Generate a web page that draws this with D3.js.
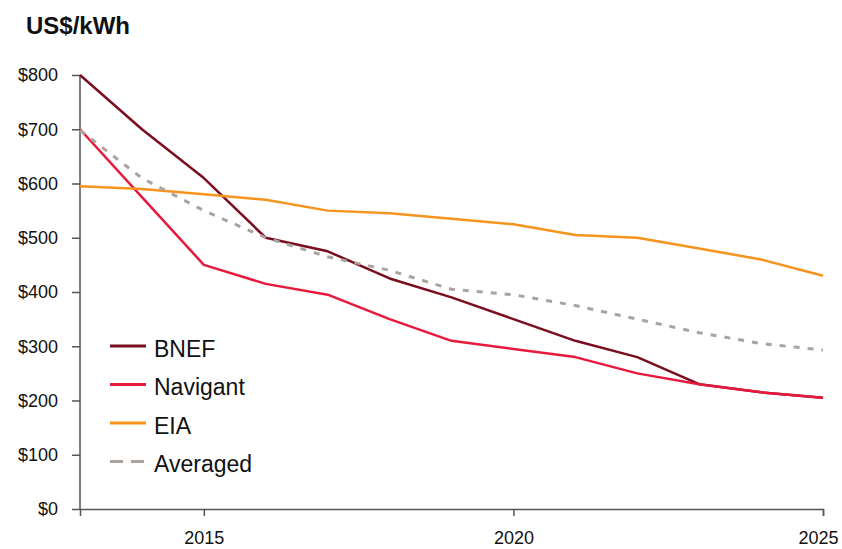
<!DOCTYPE html>
<html>
<head>
<meta charset="utf-8">
<script src="https://cdn.jsdelivr.net/npm/d3@7"></script>
<style>
  body { margin: 0; background: #fff; }
  text { font-family: "Liberation Sans", Arial, Helvetica, sans-serif; fill: #111; }
</style>
</head>
<body>
<div id="chart"></div>
<script>
var years = [2013, 2014, 2015, 2016, 2017, 2018, 2019, 2020, 2021, 2022, 2023, 2024, 2025];
var bnef     = [800, 700, 610, 500, 475, 425, 390, 350, 310, 280, 230, 215, 205];
var navigant = [700, 575, 450, 415, 395, 350, 310, 295, 280, 250, 230, 215, 205];
var eia      = [595, 590, 580, 570, 550, 545, 535, 525, 505, 500, 480, 460, 430];
var averaged = [698, 610, 550, 500, 465, 440, 405, 395, 375, 350, 325, 305, 293];
var xTicks = [2015, 2020, 2025];
var yTicks = [0, 100, 200, 300, 400, 500, 600, 700, 800];

var series = [
  {name: "BNEF", values: bnef, color: "#7a0d1f", dash: null},
  {name: "Navigant", values: navigant, color: "#e8193c", dash: null},
  {name: "EIA", values: eia, color: "#f7941e", dash: null},
  {name: "Averaged", values: averaged, color: "#aaa39e", dash: "6,8"}
];

var svgWidth = 842, svgHeight = 549;
var margin = {top: 75, right: 19, bottom: 40, left: 80};
var width = svgWidth - margin.left - margin.right;
var height = svgHeight - margin.top - margin.bottom;

var x = d3.scaleLinear().domain([2013, 2025]).range([0, width]),
    y = d3.scaleLinear().domain([0, 800]).range([height, 0]);

var svg = d3.select("#chart").append("svg")
    .attr("width", svgWidth)
    .attr("height", svgHeight);

svg.append("text")
    .attr("x", 26)
    .attr("y", 34)
    .style("font-size", "24px")
    .style("font-weight", "bold")
    .text("US$/kWh");

var g = svg.append("g")
    .attr("transform", "translate(" + margin.left + "," + margin.top + ")");

// axes
var yAxis = d3.axisLeft(y).tickValues(yTicks).tickSize(8).tickPadding(14)
    .tickFormat(function(d) { return "$" + d; });
var xAxis = d3.axisBottom(x).tickValues(xTicks).tickSize(7).tickPadding(15)
    .tickFormat(d3.format("d"));

var gy = g.append("g").attr("class", "yAxis").call(yAxis);
var gx = g.append("g").attr("class", "xAxis")
    .attr("transform", "translate(0," + height + ")")
    .call(xAxis);

[gx, gy].forEach(function(a) {
  a.select(".domain").attr("stroke", "#555").attr("stroke-width", 1.5);
  a.selectAll(".tick line").attr("stroke", "#555").attr("stroke-width", 1.5);
  a.selectAll(".tick text").style("font-size", "18px").attr("fill", "#111")
    .style("font-family", "'Liberation Sans', Arial, sans-serif");
});
gy.select(".domain").attr("d", "M0," + height + "V0");

// last year label sits at the page edge: nudge it inside
gx.selectAll(".tick text")
    .filter(function(d) { return d === 2025; })
    .attr("dx", -5);

// lines
var line = d3.line()
    .x(function(d, i) { return x(years[i]); })
    .y(function(d) { return y(d); });

series.forEach(function(s) {
  g.append("path")
      .datum(s.values)
      .attr("fill", "none")
      .attr("stroke", s.color)
      .attr("stroke-width", s.dash ? 3 : 2.5)
      .attr("stroke-dasharray", s.dash)
      .attr("stroke-linejoin", "round")
      .attr("d", line);
});

// legend
var legend = svg.append("g").attr("transform", "translate(110,346)");
series.forEach(function(s, i) {
  var row = legend.append("g").attr("transform", "translate(0," + (i * 38.5) + ")");
  row.append("line")
      .attr("x1", 0).attr("x2", 36)
      .attr("stroke", s.color)
      .attr("stroke-width", 3)
      .attr("stroke-dasharray", s.dash ? "13,8" : null);
  row.append("text")
      .attr("x", 44)
      .attr("y", 10.5)
      .style("font-size", "23px")
      .text(s.name);
});
</script>
</body>
</html>
